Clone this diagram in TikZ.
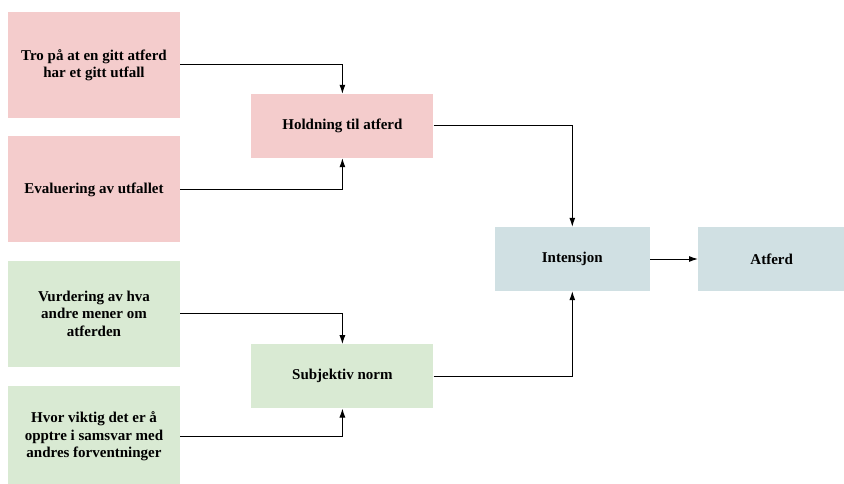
\documentclass[tikz,border=0pt]{standalone}
\usepackage{fontspec}
\setmainfont{Liberation Serif}
\usetikzlibrary{arrows, arrows.meta, positioning}
\definecolor{rosa}{HTML}{F4CCCC}
\definecolor{mint}{HTML}{D9EAD3}
\definecolor{graablaa}{HTML}{D0E0E3}
\tikzstyle{factor} = [rectangle, minimum width=172pt, minimum height=106pt, inner sep=0pt, align=center]
\tikzstyle{construct} = [rectangle, minimum width=182pt, minimum height=64pt, inner sep=0pt, align=center]
\tikzstyle{outcome} = [rectangle, fill=graablaa, minimum height=64pt, inner sep=0pt, align=center]
\tikzstyle{line} = [draw, line width=1pt, -{Latex[length=9pt, width=6pt]}]

\begin{document}
\begin{tikzpicture}[node distance=18pt and 71pt, font=\fontsize{15}{17.5}\selectfont\bfseries]
        \useasboundingbox (0pt,0pt) rectangle (844pt,-484pt);
        % Nodes
        \node [factor, fill=rosa] (tro) at (94pt,-65pt) {Tro på at en gitt atferd\\har et gitt utfall};
        \node [factor, fill=rosa, below=of tro] (eval) {Evaluering av utfallet};
        \node [factor, fill=mint, below=of eval] (vurd) {Vurdering av hva\\andre mener om\\atferden};
        \node [factor, fill=mint, below=19pt of vurd, minimum height=101pt] (viktig) {Hvor viktig det er å\\opptre i samsvar med\\andres forventninger};
        \node [construct, fill=rosa, right=of tro, yshift=-61pt] (holdning) {Holdning til atferd};
        \node [construct, fill=mint, right=of vurd, yshift=-62.5pt] (norm) {Subjektiv norm};
        \node [outcome, minimum width=155pt, right=61pt of holdning, yshift=-133pt] (intensjon) {Intensjon};
        \node [outcome, minimum width=147pt, right=48pt of intensjon] (atferd) {Atferd};

        % Arrows
        \path [line] (tro.east) -| (holdning.north);
        \path [line] (eval.east) -| (holdning.south);
        \path [line] (vurd.east) -| (norm.north);
        \path [line] (viktig.east) -| (norm.south);
        \path [line] (holdning.east) -| (intensjon.north);
        \path [line] (norm.east) -| (intensjon.south);
        \path [line] (intensjon) -- (atferd);
    \end{tikzpicture}
\end{document}
